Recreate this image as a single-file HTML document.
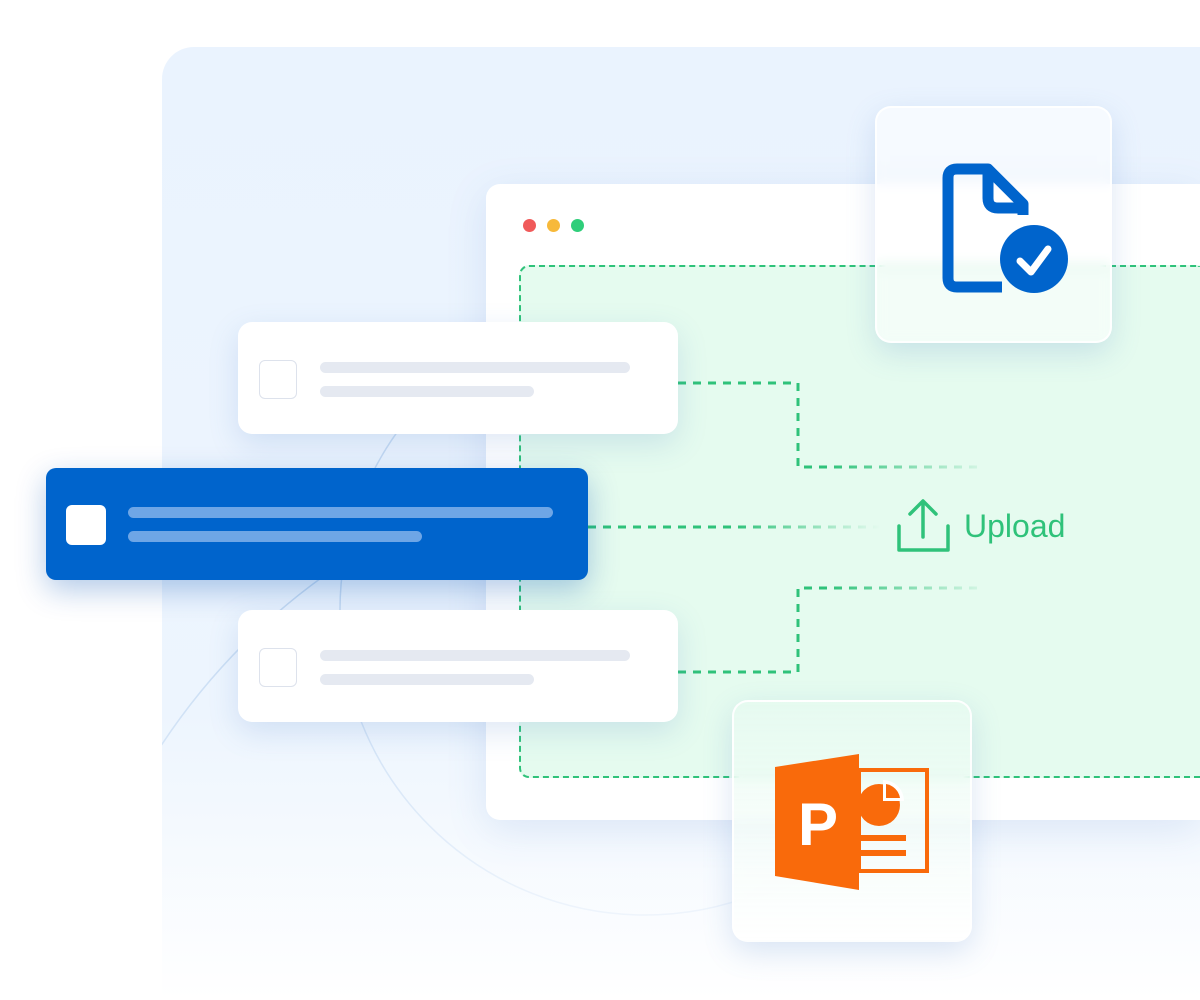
<!DOCTYPE html>
<html style="overflow:hidden;height:1000px"><head><style>
body{margin:0;width:1200px;height:1000px;background:#fff;position:relative;overflow:hidden;font-family:"Liberation Sans",sans-serif}
.abs{position:absolute}
.panel{left:162px;top:47px;width:1038px;height:953px;border-radius:32px 0 0 0;background:linear-gradient(#eaf3fe 0%,#edf5fe 70%,#fff 100%);overflow:hidden}
.win{left:486px;top:184px;width:714px;height:636px;background:#fff;border-radius:14px 0 0 14px;box-shadow:0 10px 40px rgba(80,130,200,.15)}
.drop{left:519px;top:265px;width:681px;height:513px;border:2px dashed #2fc27a;border-right:none;border-radius:10px 0 0 10px;background:#e5fbef;box-sizing:border-box}
.card{background:#fff;border-radius:14px;box-shadow:0 10px 30px rgba(80,130,200,.18)}
.bar{background:#e5e9f1;border-radius:6px;height:11px}
.glass{background:rgba(255,255,255,.55);border:2px solid rgba(255,255,255,.9);border-radius:16px;box-shadow:0 10px 30px rgba(80,130,200,.2);backdrop-filter:blur(6px)}
</style></head><body>
<div class="abs panel">
<svg class="abs" style="left:-162px;top:-47px" width="1200" height="1000">
<defs><linearGradient id="mg" x1="0" y1="0" x2="0" y2="1"><stop offset="0.6" stop-color="#fff"/><stop offset="1" stop-color="#fff" stop-opacity="0"/></linearGradient>
<mask id="m"><rect width="1200" height="1000" fill="url(#mg)"/></mask></defs>
<g mask="url(#m)" fill="none" stroke="#c5daf2" stroke-width="1.5">
<circle cx="645" cy="610" r="305"/>
<circle cx="700" cy="1100" r="645"/>
</g>
</svg></div>
<div class="abs win"></div>
<div class="abs" style="left:523px;top:219px;width:13px;height:13px;border-radius:50%;background:#f05a5a"></div>
<div class="abs" style="left:547px;top:219px;width:13px;height:13px;border-radius:50%;background:#f7b93a"></div>
<div class="abs" style="left:571px;top:219px;width:13px;height:13px;border-radius:50%;background:#2fce7a"></div>
<div class="abs drop"></div>
<svg class="abs" style="left:0;top:0" width="1200" height="1000">
<defs>
<linearGradient id="f2" gradientUnits="userSpaceOnUse" x1="588" x2="880"><stop offset="0.5" stop-color="#2fc27a"/><stop offset="1" stop-color="#2fc27a" stop-opacity="0"/></linearGradient>
<linearGradient id="f3" gradientUnits="userSpaceOnUse" x1="678" x2="980"><stop offset="0.5" stop-color="#2fc27a"/><stop offset="1" stop-color="#2fc27a" stop-opacity="0.1"/></linearGradient></defs>
<g fill="none" stroke-width="3" stroke-dasharray="8 7">
<path d="M678 383H798V467H980" stroke="url(#f3)"/>
<path d="M588 527H880" stroke="url(#f2)"/>
<path d="M678 672H798V588H980" stroke="url(#f3)"/>
</g>
<g fill="none" stroke="#2fc27a" stroke-width="3.5" stroke-linecap="round" stroke-linejoin="round">
<path d="M899 526V550H948V526"/><path d="M923 537V502M910 514L923 501L936 514"/>
</g>
<text x="964" y="537" font-size="32" fill="#2fc27a" font-family="Liberation Sans">Upload</text>
</svg>
<div class="abs card" style="left:238px;top:322px;width:440px;height:112px">
<div class="abs" style="left:21px;top:38px;width:36px;height:37px;border:1.5px solid #dde2ec;border-radius:6px"></div>
<div class="abs bar" style="left:82px;top:40px;width:310px"></div>
<div class="abs bar" style="left:82px;top:64px;width:214px"></div></div>
<div class="abs" style="left:46px;top:468px;width:542px;height:112px;background:#0064cc;border-radius:10px;box-shadow:0 10px 30px rgba(0,80,180,.3)">
<div class="abs" style="left:20px;top:37px;width:40px;height:40px;background:#fff;border-radius:6px"></div>
<div class="abs" style="left:82px;top:39px;width:425px;height:11px;border-radius:6px;background:#6ea6e6"></div>
<div class="abs" style="left:82px;top:63px;width:294px;height:11px;border-radius:6px;background:#6ea6e6"></div></div>
<div class="abs card" style="left:238px;top:610px;width:440px;height:112px">
<div class="abs" style="left:21px;top:38px;width:36px;height:37px;border:1.5px solid #dde2ec;border-radius:6px"></div>
<div class="abs bar" style="left:82px;top:40px;width:310px"></div>
<div class="abs bar" style="left:82px;top:64px;width:214px"></div></div>
<div class="abs glass" style="left:875px;top:106px;width:233px;height:233px">
<svg width="233" height="233"><g fill="none" stroke="#0064cc" stroke-width="11" stroke-linejoin="round">
<path d="M125 179H80Q71 179 71 170V70Q71 61 80 61H111L146 96V107"/><path d="M111 62V90Q111 100 121 100H144"/></g>
<circle cx="157" cy="151" r="34" fill="#0064cc"/>
<path d="M143 153L154 164L171 141" fill="none" stroke="#fff" stroke-width="7" stroke-linecap="round" stroke-linejoin="round"/></svg></div>
<div class="abs glass" style="left:732px;top:700px;width:236px;height:238px;background:linear-gradient(rgba(230,250,240,.7),rgba(255,255,255,.85))">
<svg width="236" height="238">
<rect x="125" y="68" width="68" height="101" fill="none" stroke="#f96a0b" stroke-width="4"/>
<circle cx="145" cy="103" r="21" fill="#f96a0b"/><path d="M149 78A21 21 0 0 1 170 99H149Z" fill="#fff"/><path d="M152 82A17 17 0 0 1 166 96H152Z" fill="#f96a0b"/>
<rect x="125" y="133" width="47" height="6" fill="#f96a0b"/><rect x="125" y="148" width="47" height="6" fill="#f96a0b"/>
<path d="M41 65L125 52V188L41 174Z" fill="#f96a0b"/>
<text x="64" y="143" font-size="60" font-weight="bold" fill="#fff" font-family="Liberation Sans">P</text></svg></div>
</body></html>
